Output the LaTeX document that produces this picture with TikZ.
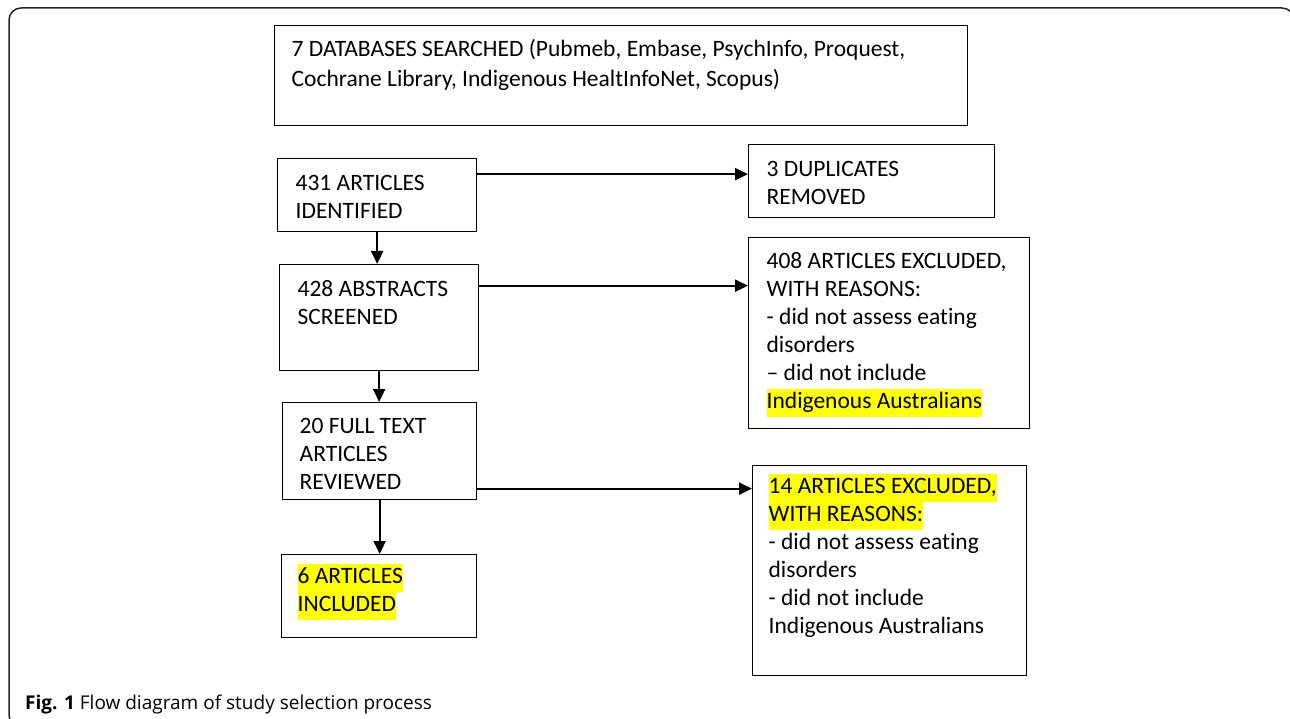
\documentclass[tikz,border=0pt]{standalone}
\usepackage{fontspec}
\setmainfont{Carlito}[Ligatures=NoCommon]
\newfontfamily\capfont{Open Sans}
\usetikzlibrary{arrows.meta}
\definecolor{hlyellow}{HTML}{FFFF00}
\newcommand{\hlt}[1]{{\setlength{\fboxsep}{0pt}\colorbox{hlyellow}{\strut #1}}}
\newcommand{\tl}[1]{\mbox{\strut #1}}
\newcommand{\boxbody}[5]{\parbox[c][#2][t]{#1}{\vspace*{#4}\raggedright\leftskip=#3\relax\parindent=0pt #5}}
\begin{document}
\begin{tikzpicture}[x=1pt,y=-1pt,
  box/.style={draw=black, line width=1.3pt, inner sep=0pt, anchor=north west,
    font=\fontsize{23.5}{28}\selectfont},
  bigbox/.style={box, font=\fontsize{23.5}{30}\selectfont},
  arr/.style={line width=2pt, -{Triangle[length=13pt,width=12pt]}},
  frame/.style={line width=1.5pt, rounded corners=12pt, draw=black!85}]
\useasboundingbox (0,0) rectangle (1290,719);
\begin{scope}
\clip (0,0) rectangle (1290,719);
\draw[frame] (9,8) rectangle (1294,727);
\end{scope}
% boxes
\node[bigbox] (T) at (274,25) {\boxbody{693pt}{100pt}{17pt}{9.5pt}{\tl{7 DATABASES SEARCHED (Pubmeb, Embase, PsychInfo, Proquest,}\\\tl{Cochrane Library, Indigenous HealtInfoNet, Scopus)}}};
\node[box] (A) at (277,158) {\boxbody{199pt}{73pt}{18pt}{12pt}{\tl{431 ARTICLES}\\\tl{IDENTIFIED}}};
\node[box] (Dup) at (748,144) {\boxbody{246pt}{73pt}{18pt}{12pt}{\tl{3 DUPLICATES}\\\tl{REMOVED}}};
\node[box] (B) at (279,264) {\boxbody{199pt}{106pt}{18pt}{12pt}{\tl{428 ABSTRACTS}\\\tl{SCREENED}}};
\node[box] (E1) at (748,237) {\boxbody{281pt}{191pt}{18pt}{11pt}{\tl{408 ARTICLES EXCLUDED,}\\\tl{WITH REASONS:}\\\tl{- did not assess eating}\\\tl{disorders}\\\tl{\textendash{} did not include}\\\hlt{Indigenous Australians}}};
\node[box] (C) at (282,402) {\boxbody{194pt}{97pt}{17pt}{11pt}{\tl{20 FULL TEXT}\\\tl{ARTICLES}\\\tl{REVIEWED}}};
\node[box] (D) at (281,554) {\boxbody{195pt}{83pt}{16pt}{9pt}{\hlt{6 ARTICLES}\\\hlt{INCLUDED}}};
\node[box] (E2) at (752,465) {\boxbody{274pt}{210pt}{16pt}{8pt}{\hlt{14 ARTICLES EXCLUDED,}\\\hlt{WITH REASONS:}\\\tl{- did not assess eating}\\\tl{disorders}\\\tl{- did not include}\\\tl{Indigenous Australians}}};
% connectors
\coordinate (a1) at ([yshift=21pt]A.east);
\draw[arr] (a1) -- (a1 -| Dup.west);
\draw[arr] (A.south) -- (A.south |- B.north);
\coordinate (b1) at ([yshift=32pt]B.east);
\draw[arr] (b1) -- (b1 -| E1.west);
\draw[arr] (B.south) -- (B.south |- C.north);
\coordinate (c1) at ([yshift=-37.5pt]C.east);
\draw[arr] (c1) -- (c1 -| E2.west);
\draw[arr] (C.south) -- (C.south |- D.north);
% caption
\node[anchor=base west, inner sep=0pt, font=\capfont\fontsize{19}{22}\selectfont] (cap) at (25,709) {{\bfseries Fig. 1} Flow diagram of study selection process};
\end{tikzpicture}
\end{document}
